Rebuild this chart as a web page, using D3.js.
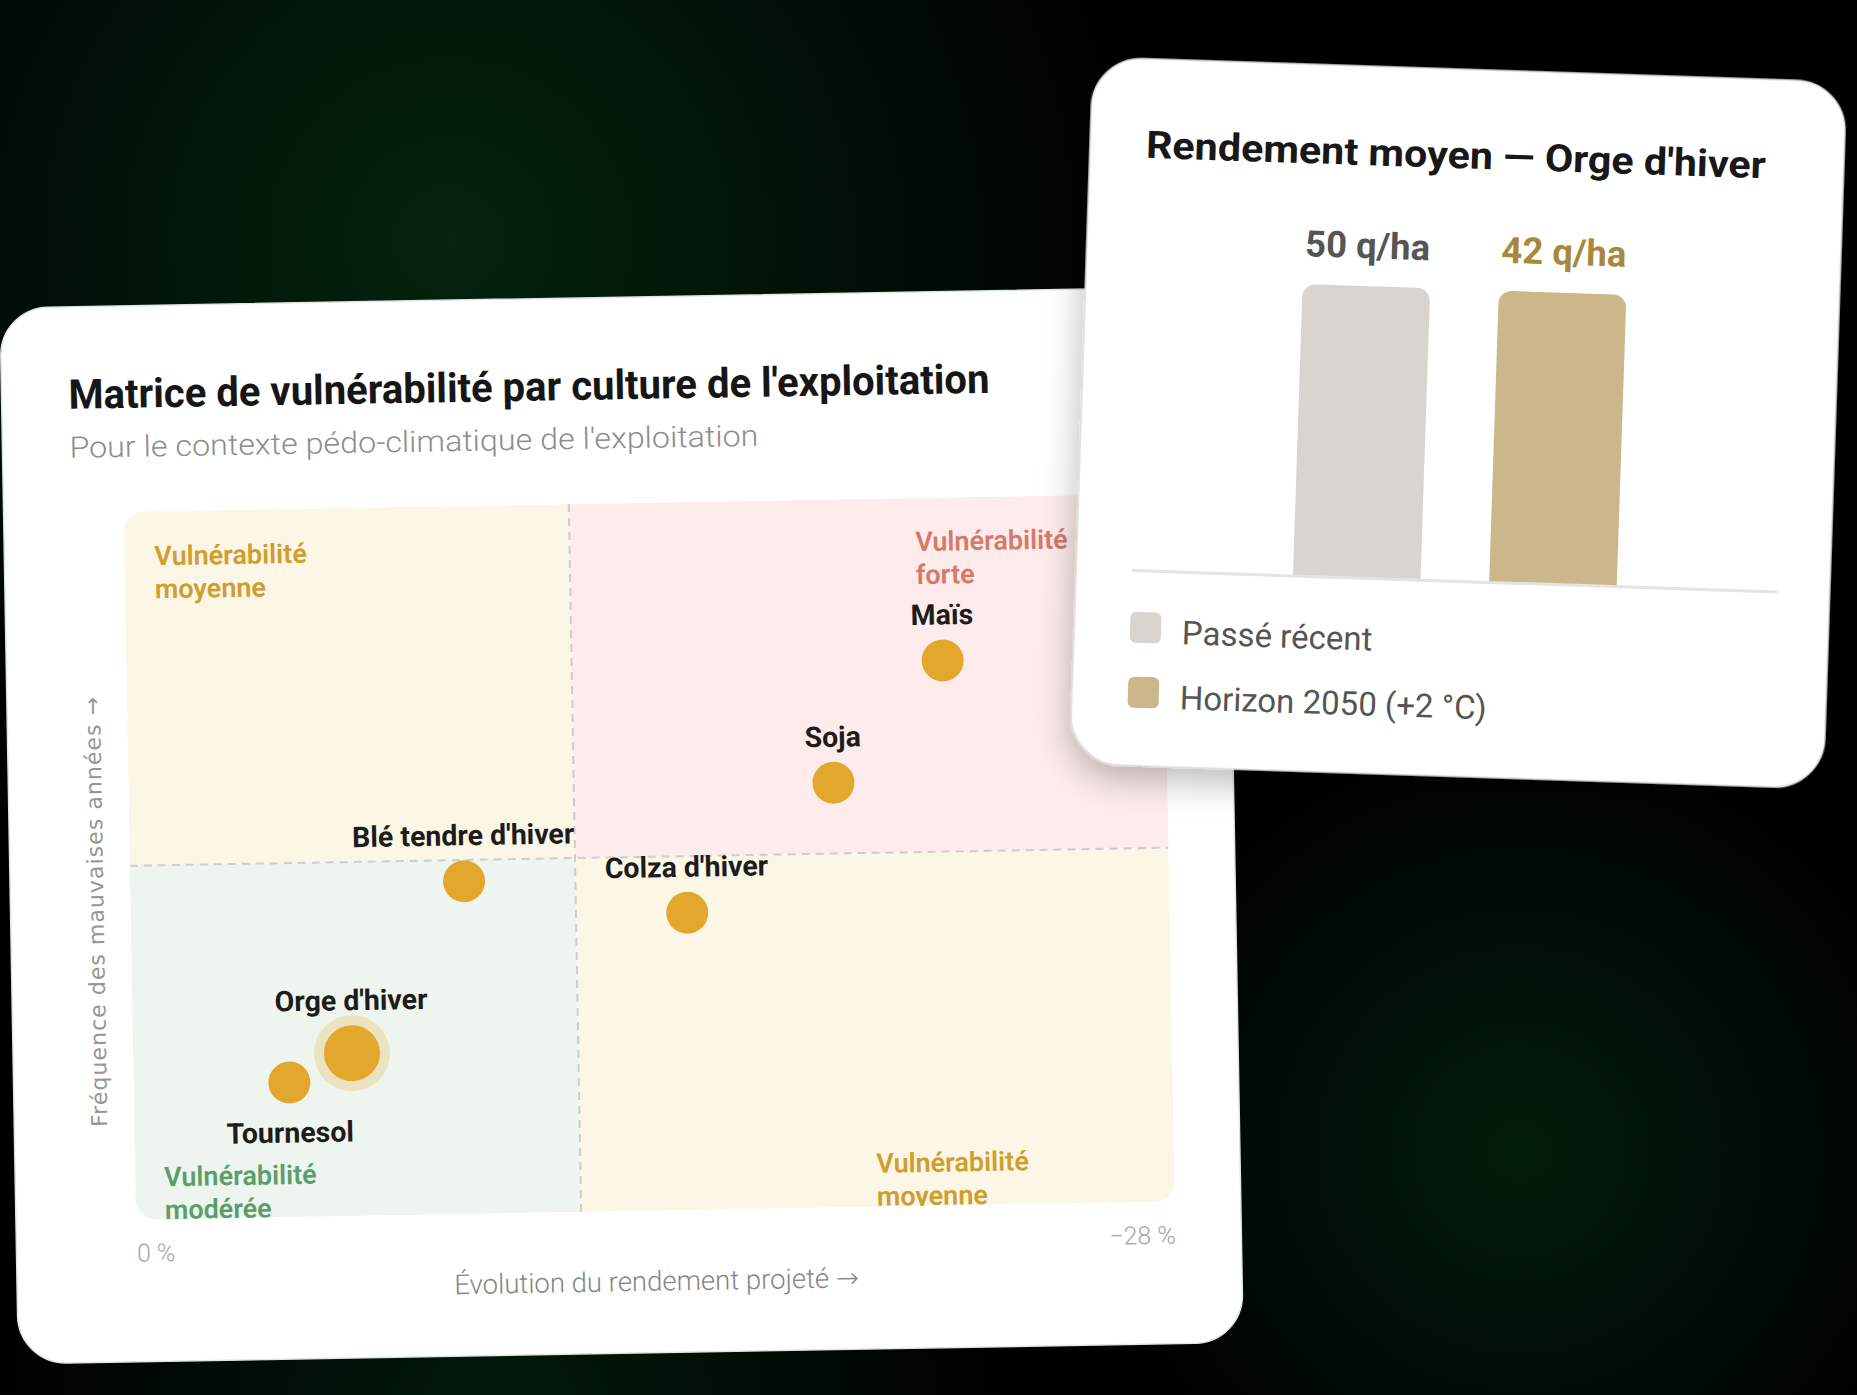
<!DOCTYPE html>
<html lang="fr">
<head>
<meta charset="utf-8">
<title>Matrice de vulnérabilité par culture</title>
<script src="https://cdn.jsdelivr.net/npm/d3@7"></script>
<style>
  html, body { margin: 0; padding: 0; background: #000; }
  svg { display: block; font-family: Roboto, "Noto Sans", sans-serif; }
</style>
</head>
<body>
<svg id="scene" width="1857" height="1395"></svg>
<script>
// ---- matrix data ----
const crops = ["Maïs", "Soja", "Blé tendre d'hiver", "Colza d'hiver", "Orge d'hiver", "Tournesol"];
const yieldChange = [-22, -19, -9, -15, -5.9, -4.2];   // évolution du rendement projeté (%)
const badYearFreq = [77, 60, 47, 42, 23, 19];          // fréquence des mauvaises années (%)
const xDomain = [0, -28];
const yDomain = [0, 100];
const xThreshold = -12;
const yThreshold = 50;
const xTickLabels = ["0 %", "−28 %"];
const focusCrop = "Orge d'hiver";
const quadrantNames = [
  ["Vulnérabilité", "moyenne"],
  ["Vulnérabilité", "forte"],
  ["Vulnérabilité", "modérée"],
  ["Vulnérabilité", "moyenne"]
];

// ---- bar data ----
const periods = ["Passé récent", "Horizon 2050 (+2 °C)"];
const yields = [50, 42];
const yieldUnit = "q/ha";

const svg = d3.select('#scene');
const defs = svg.append('defs');

// background with dark green glows
function glow(id, cx, cy, r, color, op) {
  const g = defs.append('radialGradient').attr('id', id)
    .attr('gradientUnits', 'userSpaceOnUse')
    .attr('cx', cx).attr('cy', cy).attr('r', r);
  g.append('stop').attr('offset', 0).attr('stop-color', color).attr('stop-opacity', op);
  g.append('stop').attr('offset', 1).attr('stop-color', color).attr('stop-opacity', 0);
  svg.append('rect').attr('width', 1857).attr('height', 1395).attr('fill', `url(#${id})`);
}
svg.append('rect').attr('width', 1857).attr('height', 1395).attr('fill', '#000');
glow('glow1', 450, 240, 700, '#04240f', 1);
glow('glow2', 1520, 1150, 430, '#03200d', 0.9);
glow('glow3', 500, 1420, 520, '#03200d', 0.8);

const shadow = defs.append('filter').attr('id', 'shadow')
  .attr('x', -0.2).attr('y', -0.2).attr('width', 1.4).attr('height', 1.4);
shadow.append('feDropShadow').attr('dx', 0).attr('dy', 12)
  .attr('stdDeviation', 18).attr('flood-color', '#000').attr('flood-opacity', 0.28);

// arrow glyph in a font where it is drawn large
function withArrow(sel, label) {
  sel.append('tspan').text(label + ' ');
  sel.append('tspan').attr('font-family', '"DejaVu Sans", sans-serif').text('→');
}

// =====================  card 1 : matrix  =====================
const card1 = svg.append('g').attr('transform', 'translate(0,308) rotate(-1)');
card1.append('rect')
  .attr('width', 1225).attr('height', 1056).attr('rx', 48)
  .attr('fill', '#fff').attr('stroke', '#dfe7e1').attr('stroke-width', 1.5);

card1.append('text')
  .attr('x', 67).attr('y', 102)
  .attr('textLength', 921).attr('lengthAdjust', 'spacingAndGlyphs')
  .attr('font-size', 41).attr('font-weight', 700).attr('fill', '#161616')
  .text("Matrice de vulnérabilité par culture de l'exploitation");

card1.append('text')
  .attr('x', 67).attr('y', 151)
  .attr('textLength', 689).attr('lengthAdjust', 'spacingAndGlyphs')
  .attr('font-size', 29.5).attr('font-weight', 300).attr('fill', '#8d8d8d')
  .text("Pour le contexte pédo-climatique de l'exploitation");

const plot = { x0: 120, x1: 1159, y0: 206, y1: 914 };
const x = d3.scaleLinear().domain(xDomain).range([plot.x0, plot.x1]);
const y = d3.scaleLinear().domain(yDomain).range([plot.y1, plot.y0]);

defs.append('clipPath').attr('id', 'plotClip')
  .append('rect')
  .attr('x', plot.x0).attr('y', plot.y0)
  .attr('width', plot.x1 - plot.x0).attr('height', plot.y1 - plot.y0)
  .attr('rx', 20);

const quads = [
  { xs: [xDomain[0], xThreshold], ys: [yThreshold, yDomain[1]], fill: '#fcf6e7', color: '#cf9e2e' },
  { xs: [xThreshold, xDomain[1]], ys: [yThreshold, yDomain[1]], fill: '#fdeceb', color: '#d7786a' },
  { xs: [xDomain[0], xThreshold], ys: [yDomain[0], yThreshold], fill: '#eef5ee', color: '#5c9d6c' },
  { xs: [xThreshold, xDomain[1]], ys: [yDomain[0], yThreshold], fill: '#fcf6e7', color: '#cf9e2e' }
];
// label anchors inside each quadrant (offsets from quadrant corners)
const quadLabelPos = [
  q => [x(q.xs[0]) + 30, y(q.ys[1]) + 54],
  q => [x(q.xs[1]) - 248, y(q.ys[1]) + 53],
  q => [x(q.xs[0]) + 29, y(q.ys[0]) - 33],
  q => [x(q.xs[0]) + 296, y(q.ys[0]) - 34]
];

const plotG = card1.append('g').attr('clip-path', 'url(#plotClip)');

plotG.selectAll('rect.quad')
  .data(quads)
  .join('rect')
    .attr('class', 'quad')
    .attr('x', d => x(d.xs[0]))
    .attr('y', d => y(d.ys[1]))
    .attr('width', d => x(d.xs[1]) - x(d.xs[0]))
    .attr('height', d => y(d.ys[0]) - y(d.ys[1]))
    .attr('fill', d => d.fill);

plotG.selectAll('text.quad-label')
  .data(quads)
  .join('text')
    .attr('class', 'quad-label')
    .attr('font-size', 27).attr('font-weight', 600)
    .attr('fill', d => d.color)
    .each(function(d, i) {
      const [lx, ly] = quadLabelPos[i](d);
      d3.select(this).selectAll('tspan')
        .data(quadrantNames[i])
        .join('tspan')
          .attr('x', lx)
          .attr('y', (t, j) => ly + j * 33)
          .text(t => t);
    });

// dashed thresholds
plotG.append('line')
  .attr('x1', x(xThreshold)).attr('x2', x(xThreshold))
  .attr('y1', plot.y0).attr('y2', plot.y1)
  .attr('stroke', '#cdcdcd').attr('stroke-width', 2).attr('stroke-dasharray', '8 6');
plotG.append('line')
  .attr('x1', plot.x0).attr('x2', plot.x1)
  .attr('y1', y(yThreshold)).attr('y2', y(yThreshold))
  .attr('stroke', '#cdcdcd').attr('stroke-width', 2).attr('stroke-dasharray', '8 6');

// crop points
const points = crops.map((c, i) => ({ name: c, dx: yieldChange[i], fy: badYearFreq[i] }));
const labelBelow = new Set(["Tournesol"]);
const rad = d => d.name === focusCrop ? 28 : 21;

const ptG = card1.append('g');
ptG.selectAll('circle.halo')
  .data(points.filter(d => d.name === focusCrop))
  .join('circle')
    .attr('class', 'halo')
    .attr('cx', d => x(d.dx)).attr('cy', d => y(d.fy))
    .attr('r', 38)
    .attr('fill', '#e3a92f').attr('fill-opacity', 0.24);

ptG.selectAll('circle.dot')
  .data(points)
  .join('circle')
    .attr('class', 'dot')
    .attr('cx', d => x(d.dx)).attr('cy', d => y(d.fy))
    .attr('r', rad)
    .attr('fill', '#e2a82e');

ptG.selectAll('text.crop')
  .data(points)
  .join('text')
    .attr('class', 'crop')
    .attr('x', d => x(d.dx))
    .attr('y', d => labelBelow.has(d.name) ? y(d.fy) + rad(d) + 39 : y(d.fy) - rad(d) - 15)
    .attr('text-anchor', 'middle')
    .attr('font-size', 28.5).attr('font-weight', 700).attr('fill', '#1c1c1c')
    .text(d => d.name);

// x axis: only the two ends are labelled
const xAxis = d3.axisBottom(x)
  .tickValues(xDomain)
  .tickFormat((d, i) => xTickLabels[i])
  .tickSize(0);
const xAxisG = card1.append('g')
  .attr('transform', `translate(0,${plot.y1})`)
  .call(xAxis);
xAxisG.select('.domain').remove();
xAxisG.selectAll('text')
  .attr('y', 42).attr('dy', 0)
  .attr('text-anchor', (d, i) => i === 0 ? 'start' : 'end')
  .attr('font-family', 'Roboto, sans-serif')
  .attr('font-size', 25).attr('font-weight', 300).attr('fill', '#a5a5a5');

card1.append('text')
  .attr('x', (plot.x0 + plot.x1) / 2).attr('y', 994)
  .attr('text-anchor', 'middle')
  .attr('font-size', 27.5).attr('font-weight', 300).attr('fill', '#858585')
  .call(withArrow, 'Évolution du rendement projeté');

card1.append('text')
  .attr('transform', 'translate(93,605) rotate(-90)')
  .attr('text-anchor', 'middle')
  .attr('font-family', '"DejaVu Sans", sans-serif')
  .attr('font-size', 22).attr('font-weight', 400).attr('fill', '#959595')
  .attr('letter-spacing', 1.05)
  .text('Fréquence des mauvaises années →');

// =====================  card 2 : bars  =====================
const card2 = svg.append('g').attr('transform', 'translate(1093,57) rotate(1.9)');
card2.append('rect')
  .attr('width', 754).attr('height', 707).attr('rx', 50)
  .attr('fill', '#fff').attr('stroke', '#dcdcdc').attr('stroke-width', 1.5)
  .attr('filter', 'url(#shadow)');

card2.append('text')
  .attr('x', 56).attr('y', 99)
  .attr('textLength', 620).attr('lengthAdjust', 'spacingAndGlyphs')
  .attr('font-size', 38).attr('font-weight', 700).attr('fill', '#181818')
  .text("Rendement moyen — Orge d'hiver");

const barColors = ['#d8d5d1', '#cbb78a'];
const valueColors = ['#555555', '#a8883a'];
const xb = d3.scaleBand().domain(periods).range([56, 702]).paddingInner(0.35).paddingOuter(0.82);
// bars are capped at the panel height
const yb = d3.scaleLinear().domain([0, 40]).range([512, 220]).clamp(true);

const bars = periods.map((p, i) => ({ period: p, value: yields[i], i }));

function topRounded(x0, y0, w, h, r) {
  const p = d3.path();
  p.moveTo(x0, y0 + h);
  p.lineTo(x0, y0 + r);
  p.arcTo(x0, y0, x0 + r, y0, r);
  p.lineTo(x0 + w - r, y0);
  p.arcTo(x0 + w, y0, x0 + w, y0 + r, r);
  p.lineTo(x0 + w, y0 + h);
  p.closePath();
  return p.toString();
}

card2.selectAll('path.bar')
  .data(bars)
  .join('path')
    .attr('class', 'bar')
    .attr('d', d => topRounded(xb(d.period), yb(d.value), xb.bandwidth(), yb(0) - yb(d.value), 13))
    .attr('fill', d => barColors[d.i]);

card2.selectAll('text.value')
  .data(bars)
  .join('text')
    .attr('class', 'value')
    .attr('x', d => xb(d.period) + xb.bandwidth() / 2)
    .attr('y', d => yb(d.value) - 28)
    .attr('text-anchor', 'middle')
    .attr('font-size', 36.5).attr('font-weight', 700)
    .attr('fill', d => valueColors[d.i])
    .text(d => `${d.value} ${yieldUnit}`);

card2.append('line')
  .attr('x1', 56).attr('x2', 702)
  .attr('y1', yb(0)).attr('y2', yb(0))
  .attr('stroke', '#e4e4e4').attr('stroke-width', 3);

const legend = card2.selectAll('g.legend')
  .data(bars)
  .join('g')
    .attr('class', 'legend')
    .attr('transform', d => `translate(56,${553 + d.i * 65})`);
legend.append('rect')
  .attr('width', 31).attr('height', 31).attr('rx', 6)
  .attr('fill', d => barColors[d.i]);
legend.append('text')
  .attr('x', 52).attr('y', 31)
  .attr('font-size', 33).attr('font-weight', 400).attr('fill', '#555')
  .text(d => d.period);
</script>
</body>
</html>
